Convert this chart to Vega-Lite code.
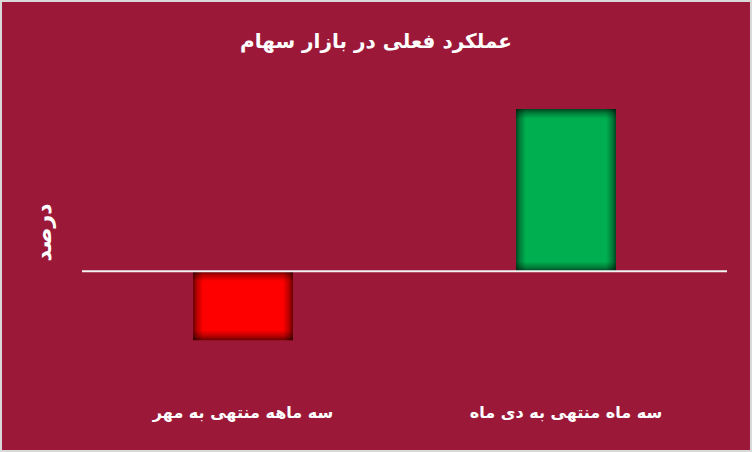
{
  "$schema": "https://vega.github.io/schema/vega-lite/v6.json",
  "description": "Stock market performance, two quarters.",
  "width": 752,
  "height": 452,
  "padding": 0,
  "autosize": {"type": "none"},
  "background": "#9C1839",
  "config": {
    "font": "DejaVu Sans",
    "view": {"stroke": "#D9D9D9", "strokeWidth": 4}
  },
  "title": {
    "text": "عملکرد فعلی در بازار سهام",
    "color": "#FFFFFF",
    "fontSize": 20,
    "fontWeight": "bold",
    "anchor": "middle",
    "offset": -52
  },
  "data": {
    "values": [
      {"period": "سه ماهه منتهی به مهر", "value": -11.45},
      {"period": "سه ماه منتهی به دی ماه", "value": 26.9}
    ]
  },
  "layer": [
    {
      "encoding": {
        "x": {
          "field": "period",
          "type": "nominal",
          "sort": ["سه ماهه منتهی به مهر", "سه ماه منتهی به دی ماه"],
          "scale": {"range": [82, 727], "paddingInner": 0.6904, "paddingOuter": 0.3437},
          "axis": {
            "title": null,
            "labelAngle": 0,
            "domain": false,
            "ticks": false,
            "grid": false,
            "labelColor": "#FFFFFF",
            "labelFontSize": 16,
            "labelFontWeight": "bold",
            "labelPadding": 0,
            "labelLimit": 0,
            "offset": -48
          }
        },
        "y": {
          "field": "value",
          "type": "quantitative",
          "scale": {"domain": [-30, 45], "nice": false, "zero": false},
          "axis": {
            "title": "درصد",
            "titleColor": "#FFFFFF",
            "titleFontSize": 22,
            "titleFontWeight": "bold",
            "titlePadding": 0,
            "labels": false,
            "ticks": false,
            "domain": false,
            "grid": false,
            "offset": -55,
            "titleY": 232
          }
        }
      },
      "layer": [
        {
          "mark": {"type": "bar"},
          "encoding": {
            "color": {
              "field": "period",
              "type": "nominal",
              "scale": {
                "domain": ["سه ماهه منتهی به مهر", "سه ماه منتهی به دی ماه"],
                "range": ["#FF0000", "#00B050"]
              },
              "legend": null
            }
          }
        },
        {
          "mark": {
            "type": "bar",
            "fill": {
              "gradient": "linear", "x1": 0, "y1": 0, "x2": 1, "y2": 0,
              "stops": [
                {"offset": 0, "color": "rgba(0,0,0,0.6)"},
                {"offset": 0.04, "color": "rgba(0,0,0,0.28)"},
                {"offset": 0.1, "color": "rgba(0,0,0,0)"},
                {"offset": 0.9, "color": "rgba(0,0,0,0)"},
                {"offset": 0.96, "color": "rgba(0,0,0,0.28)"},
                {"offset": 1, "color": "rgba(0,0,0,0.6)"}
              ]
            }
          }
        },
        {
          "transform": [{"filter": "datum.value < 0"}],
          "mark": {
            "type": "bar",
            "fill": {
              "gradient": "linear", "x1": 0, "y1": 0, "x2": 0, "y2": 1,
              "stops": [
                {"offset": 0, "color": "rgba(0,0,0,0.6)"},
                {"offset": 0.06, "color": "rgba(0,0,0,0.28)"},
                {"offset": 0.145, "color": "rgba(0,0,0,0)"},
                {"offset": 0.855, "color": "rgba(0,0,0,0)"},
                {"offset": 0.94, "color": "rgba(0,0,0,0.28)"},
                {"offset": 1, "color": "rgba(0,0,0,0.6)"}
              ]
            }
          }
        },
        {
          "transform": [{"filter": "datum.value > 0"}],
          "mark": {
            "type": "bar",
            "fill": {
              "gradient": "linear", "x1": 0, "y1": 0, "x2": 0, "y2": 1,
              "stops": [
                {"offset": 0, "color": "rgba(0,0,0,0.6)"},
                {"offset": 0.025, "color": "rgba(0,0,0,0.28)"},
                {"offset": 0.06, "color": "rgba(0,0,0,0)"},
                {"offset": 0.94, "color": "rgba(0,0,0,0)"},
                {"offset": 0.975, "color": "rgba(0,0,0,0.28)"},
                {"offset": 1, "color": "rgba(0,0,0,0.6)"}
              ]
            }
          }
        }
      ]
    },
    {
      "data": {"values": [{"from": 0, "to": 1, "level": 0}]},
      "mark": {"type": "rule", "color": "#F2F2F2", "strokeWidth": 2},
      "encoding": {
        "y": {"field": "level", "type": "quantitative"},
        "x": {
          "field": "from",
          "type": "quantitative",
          "scale": {"domain": [0, 1], "range": [82, 727]},
          "axis": null
        },
        "x2": {"field": "to"}
      }
    }
  ],
  "resolve": {"scale": {"x": "independent"}}
}
